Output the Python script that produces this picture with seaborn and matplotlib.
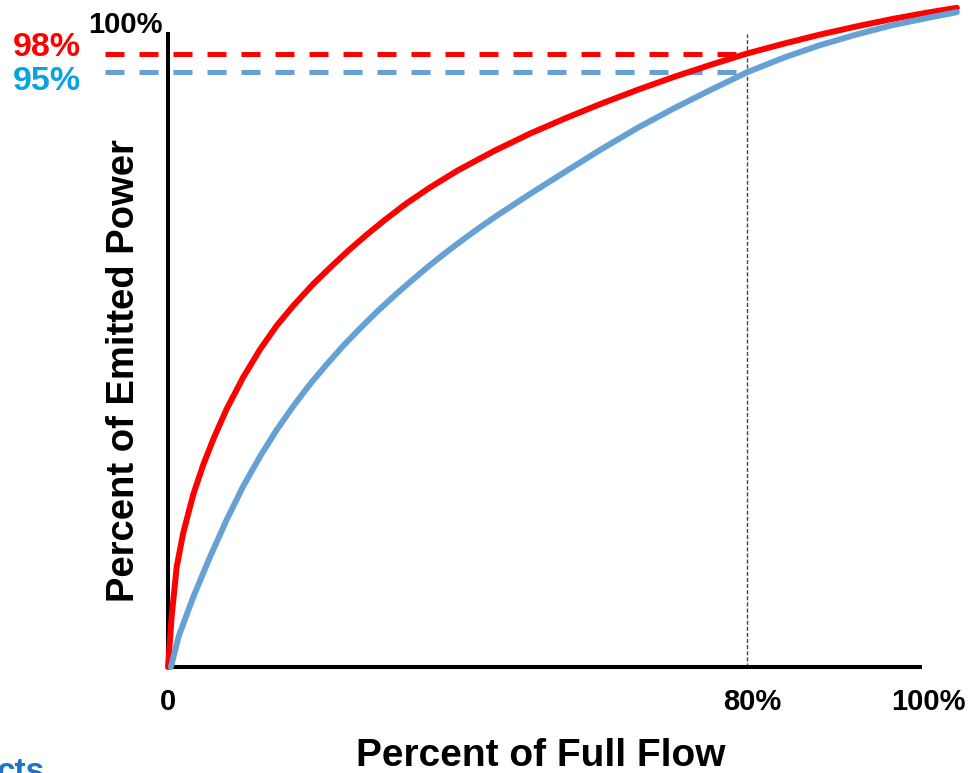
import matplotlib
matplotlib.use("Agg")
import matplotlib.pyplot as plt
import seaborn as sns
import pandas as pd

# ---- data ----
red_flow  = [0, 0.5, 1.2, 2.1, 3.5, 4.9, 6.3, 8.1, 10.4, 12.7, 15, 17.3, 20, 22.4, 25, 27.5,
             30, 33, 36.2, 40, 45, 50, 55, 60, 65, 70, 75, 80, 85, 90, 95, 100, 105, 109]
red_power = [0, 8.0, 16.0, 21.4, 27.6, 32.4, 36.5, 41.2, 46.3, 50.7, 54.5, 57.7, 61.1, 63.8,
             66.6, 69.1, 71.45, 74.1, 76.6, 79.3, 82.4, 85.2, 87.7, 90.05, 92.25, 94.3, 96.2,
             98.0, 99.55, 101.0, 102.3, 103.5, 104.55, 105.3]
blue_flow  = [0.4, 1.5, 3.5, 5.7, 8.1, 10.4, 12.7, 15, 17.3, 19.6, 21.9, 24.2, 26.5, 29, 31.6,
              34, 36.2, 38.5, 40.8, 43, 45.5, 50, 55, 60, 65, 70, 75, 80, 85, 90, 95, 100,
              105, 109]
blue_power = [0, 5.0, 11.2, 17.3, 23.5, 28.9, 33.6, 37.85, 41.65, 45.15, 48.3, 51.3, 54.05,
              56.9, 59.65, 62.05, 64.2, 66.3, 68.3, 70.15, 72.15, 75.55, 79.2, 82.8, 86.2,
              89.3, 92.2, 95.0, 97.3, 99.3, 101.0, 102.5, 103.7, 104.6]
ref_flow = 80
ref_red = 98
ref_blue = 95
xtick_pos = [0, 80.7, 105.0]
xtick_labels = ["0", "80%", "100%"]
red_label = "98%"
blue_label = "95%"
top_label = "100%"
xlabel = "Percent of Full Flow"
ylabel = "Percent of Emitted Power"

sns.set_style("white")
plt.rcParams["font.family"] = ["Liberation Sans", "DejaVu Sans"]
plt.rcParams["font.weight"] = "bold"
plt.rcParams["text.color"] = "black"
plt.rcParams["xtick.color"] = "black"
plt.rcParams["ytick.color"] = "black"

RED = "#FF0000"
BLUE = "#66A1D6"
CYAN = "#0AA3E0"

W, H = 969, 773
fig = plt.figure(figsize=(W / 100, H / 100), dpi=100)
x0, y0 = 168, 667           # pixel position of data origin
sx, sy = 579 / 80, 6.26     # px per data unit
xmax, ymax = 110, 106.4
ax = fig.add_axes([x0 / W, (H - y0) / H, xmax * sx / W, ymax * sy / H])
ax.set_xlim(0, xmax)
ax.set_ylim(0, ymax)

red_df = pd.DataFrame({"flow": red_flow, "power": red_power})
blue_df = pd.DataFrame({"flow": blue_flow, "power": blue_power})

# reference dashed lines
ax.plot([-8.7, ref_flow], [ref_red, ref_red], color=RED, lw=3.6,
        dashes=(3.8, 3.0), clip_on=False, zorder=2)
ax.plot([-8.7, ref_flow], [ref_blue, ref_blue], color=BLUE, lw=3.6,
        dashes=(3.8, 3.0), clip_on=False, zorder=2)
ax.plot([ref_flow, ref_flow], [0, 101.1], color="#444444", lw=1.0,
        dashes=(2.9, 1.5), zorder=2)

sns.lineplot(data=red_df, x="flow", y="power", ax=ax, color=RED, linewidth=4.3,
             sort=False, estimator=None, zorder=4)
sns.lineplot(data=blue_df, x="flow", y="power", ax=ax, color=BLUE, linewidth=4.3,
             sort=False, estimator=None, zorder=5)
for ln in ax.lines:
    ln.set_clip_on(False)
    ln.set_solid_joinstyle("round")

# spines
for s in ["top", "right"]:
    ax.spines[s].set_visible(False)
ax.spines["left"].set_bounds(0, 101.1)
ax.spines["bottom"].set_bounds(0, 103.9)
for s in ["left", "bottom"]:
    ax.spines[s].set_linewidth(2.9)
    ax.spines[s].set_color("black")
    ax.spines[s].set_zorder(3)

ax.set_xticks(xtick_pos)
ax.set_xticklabels(xtick_labels, fontsize=21, fontweight="bold", color="black")
ax.set_yticks([])
ax.tick_params(axis="x", length=0, pad=15)
ax.set_xlabel("")
ax.set_ylabel("")

# labels
ax.text(-0.8, 102.6, top_label, ha="right", va="center", fontsize=21,
        fontweight="bold", color="black", clip_on=False)
ax.text(-12.0, 99.0, red_label, ha="right", va="center", fontsize=24.5,
        fontweight="bold", color=RED, clip_on=False)
ax.text(-12.0, 93.5, blue_label, ha="right", va="center", fontsize=24.5,
        fontweight="bold", color=CYAN, clip_on=False)

fig.text(541 / W, (H - 766) / H, xlabel, ha="center", va="baseline",
         fontsize=28, fontweight="bold", color="black")
fig.text(124 / W, (H - 371) / H, ylabel, ha="center", va="center", rotation=90,
         fontsize=27.5, fontweight="bold", color="black")
fig.text(-3 / W, (H - 781) / H, "cts", ha="left", va="baseline",
         fontsize=24, fontweight="bold", color="#1F73C6")

fig.savefig("out.png", dpi=100)
